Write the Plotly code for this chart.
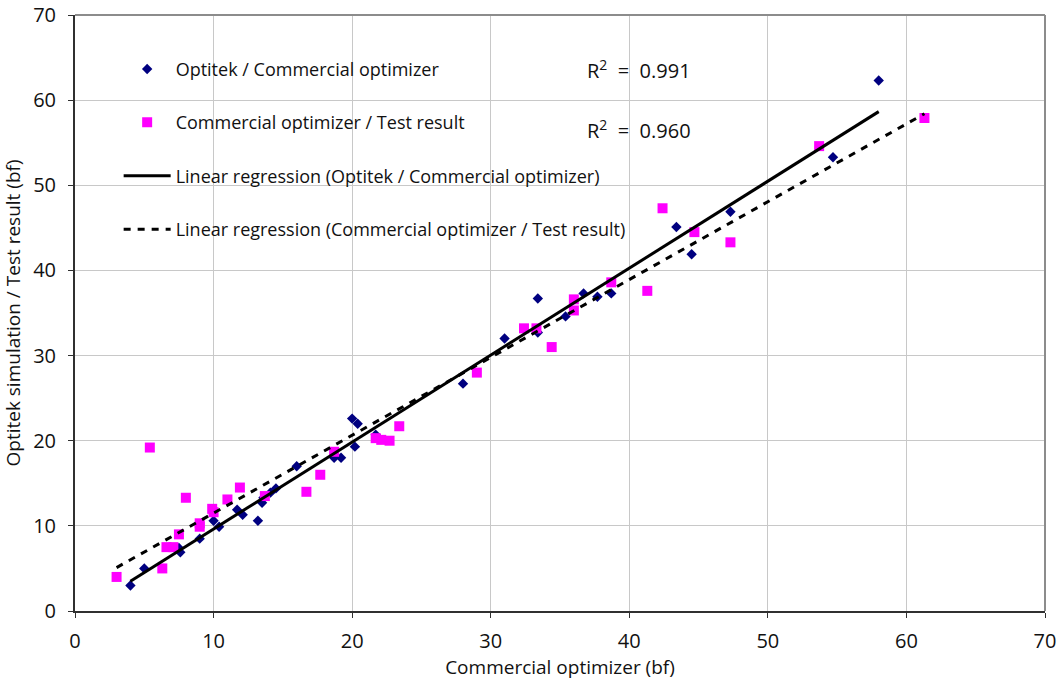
import plotly.graph_objects as go

# Optitek / Commercial optimizer
opt_x = [4.0, 5.0, 7.6, 7.5, 9.0, 10.0, 10.4, 11.7, 12.1, 13.2, 13.5, 13.6, 14.1, 14.5,
         16.0, 18.7, 19.2, 20.0, 20.4, 20.2, 21.7, 28.0, 31.0, 33.4, 33.4, 35.4, 36.7,
         37.7, 38.7, 43.4, 44.5, 47.3, 54.7, 58.0]
opt_y = [3.0, 5.0, 6.9, 7.4, 8.5, 10.6, 9.9, 11.9, 11.3, 10.6, 12.7, 13.3, 13.9, 14.4,
         17.0, 18.0, 18.0, 22.6, 22.0, 19.3, 20.7, 26.7, 32.0, 36.7, 32.7, 34.6, 37.3,
         36.9, 37.3, 45.1, 41.9, 46.9, 53.3, 62.3]

# Commercial optimizer / Test result
com_x = [3.0, 5.4, 6.3, 6.6, 7.1, 7.5, 8.0, 9.0, 9.0, 9.9, 10.0, 11.0, 11.9, 13.7,
         16.7, 17.7, 18.7, 21.7, 22.1, 22.7, 23.4, 29.0, 32.4, 33.3, 34.4, 36.0, 36.0,
         38.7, 41.3, 42.4, 44.7, 47.3, 53.7, 61.3]
com_y = [4.0, 19.2, 5.0, 7.5, 7.5, 9.0, 13.3, 10.3, 9.9, 12.0, 11.6, 13.1, 14.5, 13.5,
         14.0, 16.0, 18.7, 20.3, 20.1, 20.0, 21.7, 28.0, 33.2, 33.2, 31.0, 36.6, 35.3,
         38.6, 37.6, 47.3, 44.5, 43.3, 54.6, 57.9]

# Linear regression end points
reg_opt_x = [4.0, 58.0]
reg_opt_y = [3.5, 58.65]
reg_com_x = [3.0, 61.3]
reg_com_y = [5.1, 58.4]

r2_labels = ["R<sup>2</sup>  =  0.991", "R<sup>2</sup>  =  0.960"]

FONT = "Open Sans"

fig = go.Figure()
fig.add_trace(go.Scatter(
    x=opt_x, y=opt_y, mode="markers", name="Optitek / Commercial optimizer",
    marker=dict(symbol="diamond", size=8, color="#000080"),
    legendgroup="a", legendrank=1))
fig.add_trace(go.Scatter(
    x=com_x, y=com_y, mode="markers", name="Commercial optimizer / Test result",
    marker=dict(symbol="square", size=10, color="#FF00FF"),
    legendgroup="b", legendrank=2))
fig.add_trace(go.Scatter(
    x=reg_opt_x, y=reg_opt_y, mode="lines",
    name="Linear regression (Optitek / Commercial optimizer)",
    line=dict(color="black", width=3),
    legendgroup="c", legendrank=3))
fig.add_trace(go.Scatter(
    x=reg_com_x, y=reg_com_y, mode="lines",
    name="Linear regression (Commercial optimizer / Test result)",
    line=dict(color="black", width=3, dash="7px,7px"),
    legendgroup="d", legendrank=4))

axis_common = dict(
    range=[0, 70], dtick=10, showgrid=True, gridcolor="#c8c8c8", gridwidth=1,
    zeroline=False, showline=True, linecolor="#303030", linewidth=2,
    ticks="outside", ticklen=5, tickcolor="#303030", tickwidth=1,
    tickfont=dict(family=FONT, size=20, color="#111"),
    automargin=False,
)

fig.update_xaxes(**axis_common,
                 title=dict(text="Commercial optimizer (bf)",
                            font=dict(family=FONT, size=19, color="#111"), standoff=2),
                 ticklabelstandoff=6)
fig.update_yaxes(**axis_common,
                 title=dict(text="Optitek simulation / Test result (bf)",
                            font=dict(family=FONT, size=19, color="#111"), standoff=10),
                 ticklabelstandoff=8)

fig.update_layout(
    width=1060, height=682,
    margin=dict(l=75, r=15, t=15, b=71),
    paper_bgcolor="white", plot_bgcolor="white",
    font=dict(family=FONT, size=18, color="#111"),
    legend=dict(
        x=0.045, y=0.94, xanchor="left", yanchor="top",
        bgcolor="rgba(0,0,0,0)", borderwidth=0,
        tracegroupgap=27, itemwidth=47,
        font=dict(family=FONT, size=18, color="#111"),
    ),
    shapes=[
        # white legend panel covering the grid
        dict(type="rect", xref="paper", yref="paper", x0=0.002, x1=0.6196,
             y0=0.609, y1=0.955, fillcolor="white", line=dict(width=0),
             layer="between"),
        # top and right plot border
        dict(type="line", xref="paper", yref="paper", x0=0, x1=1, y0=1, y1=1,
             line=dict(color="#8c8c8c", width=2)),
        dict(type="line", xref="paper", yref="paper", x0=1, x1=1, y0=0, y1=1,
             line=dict(color="#8c8c8c", width=2)),
    ],
    annotations=[
        dict(text=r2_labels[0], xref="paper", yref="paper", x=0.526, y=0.908,
             xanchor="left", yanchor="middle", showarrow=False,
             font=dict(family=FONT, size=20, color="#111")),
        dict(text=r2_labels[1], xref="paper", yref="paper", x=0.526, y=0.808,
             xanchor="left", yanchor="middle", showarrow=False,
             font=dict(family=FONT, size=20, color="#111")),
    ],
)

fig.write_html("out.html")
